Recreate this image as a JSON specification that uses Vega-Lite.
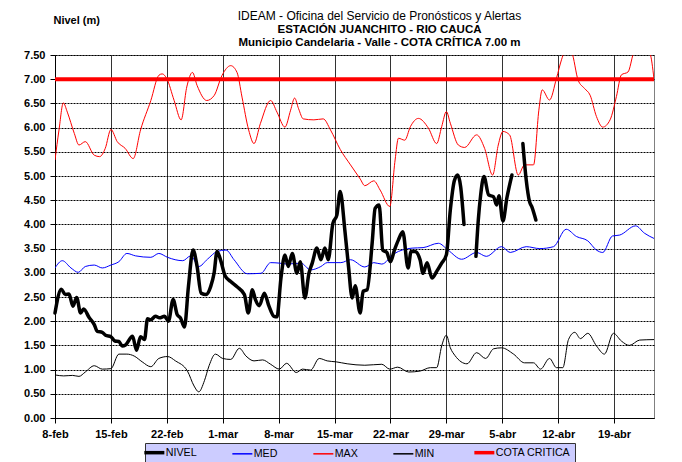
{
  "$schema": "https://vega.github.io/schema/vega-lite/v6.json",
  "width": 599,
  "height": 363,
  "padding": {"left": 23, "top": 9, "right": 20, "bottom": 5},
  "title": {
    "text": "IDEAM - Oficina del Servicio de Pronósticos y Alertas",
    "subtitle": ["ESTACIÓN JUANCHITO - RIO CAUCA", "Municipio Candelaria - Valle - COTA CRÍTICA 7.00 m"],
    "anchor": "middle",
    "frame": "group",
    "offset": -35,
    "dx": 25
  },
  "datasets": {
    "niveles": [
      {"serie":"NIVEL","fecha":"2021-02-08T00:00","nivel":2.17},
      {"serie":"NIVEL","fecha":"2021-02-08T19:00","nivel":2.66},
      {"serie":"NIVEL","fecha":"2021-02-09T07:00","nivel":2.55},
      {"serie":"NIVEL","fecha":"2021-02-09T18:00","nivel":2.56},
      {"serie":"NIVEL","fecha":"2021-02-10T06:00","nivel":2.31},
      {"serie":"NIVEL","fecha":"2021-02-10T17:00","nivel":2.49},
      {"serie":"NIVEL","fecha":"2021-02-11T05:00","nivel":2.17},
      {"serie":"NIVEL","fecha":"2021-02-11T14:00","nivel":2.25},
      {"serie":"NIVEL","fecha":"2021-02-12T07:00","nivel":2.07},
      {"serie":"NIVEL","fecha":"2021-02-12T22:00","nivel":1.93},
      {"serie":"NIVEL","fecha":"2021-02-13T07:00","nivel":1.79},
      {"serie":"NIVEL","fecha":"2021-02-13T22:00","nivel":1.77},
      {"serie":"NIVEL","fecha":"2021-02-14T08:00","nivel":1.71},
      {"serie":"NIVEL","fecha":"2021-02-15T00:00","nivel":1.68},
      {"serie":"NIVEL","fecha":"2021-02-15T12:00","nivel":1.59},
      {"serie":"NIVEL","fecha":"2021-02-16T00:00","nivel":1.58},
      {"serie":"NIVEL","fecha":"2021-02-16T10:00","nivel":1.49},
      {"serie":"NIVEL","fecha":"2021-02-16T20:00","nivel":1.51},
      {"serie":"NIVEL","fecha":"2021-02-17T17:00","nivel":1.69},
      {"serie":"NIVEL","fecha":"2021-02-18T05:00","nivel":1.40},
      {"serie":"NIVEL","fecha":"2021-02-18T17:00","nivel":1.68},
      {"serie":"NIVEL","fecha":"2021-02-19T05:00","nivel":1.62},
      {"serie":"NIVEL","fecha":"2021-02-19T14:00","nivel":2.05},
      {"serie":"NIVEL","fecha":"2021-02-20T00:00","nivel":2.03},
      {"serie":"NIVEL","fecha":"2021-02-20T14:00","nivel":2.10},
      {"serie":"NIVEL","fecha":"2021-02-21T02:00","nivel":2.07},
      {"serie":"NIVEL","fecha":"2021-02-21T17:00","nivel":2.10},
      {"serie":"NIVEL","fecha":"2021-02-22T05:00","nivel":2.00},
      {"serie":"NIVEL","fecha":"2021-02-22T19:00","nivel":2.45},
      {"serie":"NIVEL","fecha":"2021-02-23T07:00","nivel":2.14},
      {"serie":"NIVEL","fecha":"2021-02-23T17:00","nivel":2.07},
      {"serie":"NIVEL","fecha":"2021-02-24T05:00","nivel":1.88},
      {"serie":"NIVEL","fecha":"2021-02-24T17:00","nivel":2.72},
      {"serie":"NIVEL","fecha":"2021-02-25T07:00","nivel":3.47},
      {"serie":"NIVEL","fecha":"2021-02-25T19:00","nivel":3.13},
      {"serie":"NIVEL","fecha":"2021-02-26T07:00","nivel":2.58},
      {"serie":"NIVEL","fecha":"2021-02-26T22:00","nivel":2.55},
      {"serie":"NIVEL","fecha":"2021-02-27T12:00","nivel":2.72},
      {"serie":"NIVEL","fecha":"2021-02-27T22:00","nivel":2.99},
      {"serie":"NIVEL","fecha":"2021-02-28T07:00","nivel":3.44},
      {"serie":"NIVEL","fecha":"2021-02-28T19:00","nivel":3.23},
      {"serie":"NIVEL","fecha":"2021-03-01T07:00","nivel":2.94},
      {"serie":"NIVEL","fecha":"2021-03-02T00:00","nivel":2.82},
      {"serie":"NIVEL","fecha":"2021-03-02T19:00","nivel":2.71},
      {"serie":"NIVEL","fecha":"2021-03-03T17:00","nivel":2.55},
      {"serie":"NIVEL","fecha":"2021-03-04T05:00","nivel":2.17},
      {"serie":"NIVEL","fecha":"2021-03-04T17:00","nivel":2.65},
      {"serie":"NIVEL","fecha":"2021-03-05T02:00","nivel":2.45},
      {"serie":"NIVEL","fecha":"2021-03-05T14:00","nivel":2.32},
      {"serie":"NIVEL","fecha":"2021-03-06T05:00","nivel":2.58},
      {"serie":"NIVEL","fecha":"2021-03-06T19:00","nivel":2.31},
      {"serie":"NIVEL","fecha":"2021-03-07T10:00","nivel":2.10},
      {"serie":"NIVEL","fecha":"2021-03-07T19:00","nivel":2.09},
      {"serie":"NIVEL","fecha":"2021-03-08T07:00","nivel":2.89},
      {"serie":"NIVEL","fecha":"2021-03-08T19:00","nivel":3.37},
      {"serie":"NIVEL","fecha":"2021-03-09T05:00","nivel":3.13},
      {"serie":"NIVEL","fecha":"2021-03-09T17:00","nivel":3.40},
      {"serie":"NIVEL","fecha":"2021-03-10T07:00","nivel":2.99},
      {"serie":"NIVEL","fecha":"2021-03-10T17:00","nivel":3.23},
      {"serie":"NIVEL","fecha":"2021-03-11T07:00","nivel":2.48},
      {"serie":"NIVEL","fecha":"2021-03-11T19:00","nivel":2.99},
      {"serie":"NIVEL","fecha":"2021-03-12T05:00","nivel":3.20},
      {"serie":"NIVEL","fecha":"2021-03-12T19:00","nivel":3.51},
      {"serie":"NIVEL","fecha":"2021-03-13T07:00","nivel":3.27},
      {"serie":"NIVEL","fecha":"2021-03-13T19:00","nivel":3.51},
      {"serie":"NIVEL","fecha":"2021-03-14T05:00","nivel":3.27},
      {"serie":"NIVEL","fecha":"2021-03-14T19:00","nivel":4.02},
      {"serie":"NIVEL","fecha":"2021-03-15T07:00","nivel":4.19},
      {"serie":"NIVEL","fecha":"2021-03-15T17:00","nivel":4.68},
      {"serie":"NIVEL","fecha":"2021-03-16T07:00","nivel":3.88},
      {"serie":"NIVEL","fecha":"2021-03-16T18:00","nivel":3.13},
      {"serie":"NIVEL","fecha":"2021-03-17T05:00","nivel":2.48},
      {"serie":"NIVEL","fecha":"2021-03-17T14:00","nivel":2.73},
      {"serie":"NIVEL","fecha":"2021-03-18T05:00","nivel":2.17},
      {"serie":"NIVEL","fecha":"2021-03-18T14:00","nivel":2.62},
      {"serie":"NIVEL","fecha":"2021-03-19T02:00","nivel":2.65},
      {"serie":"NIVEL","fecha":"2021-03-19T17:00","nivel":3.61},
      {"serie":"NIVEL","fecha":"2021-03-20T02:00","nivel":4.33},
      {"serie":"NIVEL","fecha":"2021-03-20T14:00","nivel":4.40},
      {"serie":"NIVEL","fecha":"2021-03-21T01:00","nivel":3.47},
      {"serie":"NIVEL","fecha":"2021-03-21T13:00","nivel":3.42},
      {"serie":"NIVEL","fecha":"2021-03-22T00:00","nivel":3.23},
      {"serie":"NIVEL","fecha":"2021-03-22T12:00","nivel":3.47},
      {"serie":"NIVEL","fecha":"2021-03-23T00:00","nivel":3.68},
      {"serie":"NIVEL","fecha":"2021-03-23T13:00","nivel":3.85},
      {"serie":"NIVEL","fecha":"2021-03-24T05:00","nivel":3.10},
      {"serie":"NIVEL","fecha":"2021-03-24T14:00","nivel":3.44},
      {"serie":"NIVEL","fecha":"2021-03-25T02:00","nivel":3.44},
      {"serie":"NIVEL","fecha":"2021-03-25T17:00","nivel":3.27},
      {"serie":"NIVEL","fecha":"2021-03-26T02:00","nivel":2.99},
      {"serie":"NIVEL","fecha":"2021-03-26T14:00","nivel":3.21},
      {"serie":"NIVEL","fecha":"2021-03-27T05:00","nivel":2.89},
      {"serie":"NIVEL","fecha":"2021-03-27T19:00","nivel":3.03},
      {"serie":"NIVEL","fecha":"2021-03-28T10:00","nivel":3.20},
      {"serie":"NIVEL","fecha":"2021-03-29T00:00","nivel":3.37},
      {"serie":"NIVEL","fecha":"2021-03-29T12:00","nivel":4.30},
      {"serie":"NIVEL","fecha":"2021-03-30T00:00","nivel":4.90},
      {"serie":"NIVEL","fecha":"2021-03-30T10:00","nivel":5.02},
      {"serie":"NIVEL","fecha":"2021-03-30T19:00","nivel":4.78},
      {"serie":"NIVEL","fecha":"2021-03-31T05:00","nivel":4.00},
      {"serie":"NIVEL","fecha":"2021-03-31T22:00","nivel":null},
      {"serie":"NIVEL","fecha":"2021-04-01T17:00","nivel":3.34},
      {"serie":"NIVEL","fecha":"2021-04-02T00:00","nivel":4.09},
      {"serie":"NIVEL","fecha":"2021-04-02T07:00","nivel":4.60},
      {"serie":"NIVEL","fecha":"2021-04-02T17:00","nivel":4.99},
      {"serie":"NIVEL","fecha":"2021-04-03T07:00","nivel":4.61},
      {"serie":"NIVEL","fecha":"2021-04-03T22:00","nivel":4.57},
      {"serie":"NIVEL","fecha":"2021-04-04T07:00","nivel":4.40},
      {"serie":"NIVEL","fecha":"2021-04-04T14:00","nivel":4.59},
      {"serie":"NIVEL","fecha":"2021-04-05T02:00","nivel":4.07},
      {"serie":"NIVEL","fecha":"2021-04-05T14:00","nivel":4.55},
      {"serie":"NIVEL","fecha":"2021-04-06T05:00","nivel":5.02},
      {"serie":"NIVEL","fecha":"2021-04-06T22:00","nivel":null},
      {"serie":"NIVEL","fecha":"2021-04-07T14:00","nivel":5.67},
      {"serie":"NIVEL","fecha":"2021-04-08T00:00","nivel":4.92},
      {"serie":"NIVEL","fecha":"2021-04-08T10:00","nivel":4.47},
      {"serie":"NIVEL","fecha":"2021-04-08T17:00","nivel":4.36},
      {"serie":"NIVEL","fecha":"2021-04-09T05:00","nivel":4.09},

      {"serie":"MAX","fecha":"2021-02-08T00:00","nivel":5.33},
      {"serie":"MAX","fecha":"2021-02-08T12:00","nivel":5.95},
      {"serie":"MAX","fecha":"2021-02-09T01:00","nivel":6.51},
      {"serie":"MAX","fecha":"2021-02-09T13:00","nivel":6.32},
      {"serie":"MAX","fecha":"2021-02-10T10:00","nivel":5.88},
      {"serie":"MAX","fecha":"2021-02-11T00:00","nivel":5.64},
      {"serie":"MAX","fecha":"2021-02-11T19:00","nivel":5.71},
      {"serie":"MAX","fecha":"2021-02-12T22:00","nivel":5.43},
      {"serie":"MAX","fecha":"2021-02-13T14:00","nivel":5.40},
      {"serie":"MAX","fecha":"2021-02-14T07:00","nivel":5.57},
      {"serie":"MAX","fecha":"2021-02-15T00:00","nivel":5.96},
      {"serie":"MAX","fecha":"2021-02-15T19:00","nivel":5.71},
      {"serie":"MAX","fecha":"2021-02-16T19:00","nivel":5.57},
      {"serie":"MAX","fecha":"2021-02-17T19:00","nivel":5.36},
      {"serie":"MAX","fecha":"2021-02-18T17:00","nivel":5.95},
      {"serie":"MAX","fecha":"2021-02-20T00:00","nivel":6.56},
      {"serie":"MAX","fecha":"2021-02-21T00:00","nivel":7.08},
      {"serie":"MAX","fecha":"2021-02-21T10:00","nivel":7.11},
      {"serie":"MAX","fecha":"2021-02-22T00:00","nivel":7.01},
      {"serie":"MAX","fecha":"2021-02-22T22:00","nivel":6.56},
      {"serie":"MAX","fecha":"2021-02-23T19:00","nivel":6.16},
      {"serie":"MAX","fecha":"2021-02-24T12:00","nivel":6.84},
      {"serie":"MAX","fecha":"2021-02-25T05:00","nivel":7.14},
      {"serie":"MAX","fecha":"2021-02-25T19:00","nivel":6.87},
      {"serie":"MAX","fecha":"2021-02-27T00:00","nivel":6.56},
      {"serie":"MAX","fecha":"2021-02-27T22:00","nivel":6.66},
      {"serie":"MAX","fecha":"2021-02-28T22:00","nivel":7.08},
      {"serie":"MAX","fecha":"2021-03-02T00:00","nivel":7.28},
      {"serie":"MAX","fecha":"2021-03-02T19:00","nivel":7.14},
      {"serie":"MAX","fecha":"2021-03-03T10:00","nivel":6.63},
      {"serie":"MAX","fecha":"2021-03-04T06:00","nivel":5.95},
      {"serie":"MAX","fecha":"2021-03-04T22:00","nivel":5.67},
      {"serie":"MAX","fecha":"2021-03-05T17:00","nivel":6.08},
      {"serie":"MAX","fecha":"2021-03-07T00:00","nivel":6.56},
      {"serie":"MAX","fecha":"2021-03-07T19:00","nivel":6.32},
      {"serie":"MAX","fecha":"2021-03-08T19:00","nivel":6.01},
      {"serie":"MAX","fecha":"2021-03-09T12:00","nivel":6.36},
      {"serie":"MAX","fecha":"2021-03-10T00:00","nivel":6.61},
      {"serie":"MAX","fecha":"2021-03-10T12:00","nivel":6.39},
      {"serie":"MAX","fecha":"2021-03-11T02:00","nivel":6.18},
      {"serie":"MAX","fecha":"2021-03-12T10:00","nivel":6.16},
      {"serie":"MAX","fecha":"2021-03-13T14:00","nivel":6.18},
      {"serie":"MAX","fecha":"2021-03-14T12:00","nivel":5.95},
      {"serie":"MAX","fecha":"2021-03-15T17:00","nivel":5.55},
      {"serie":"MAX","fecha":"2021-03-17T00:00","nivel":5.23},
      {"serie":"MAX","fecha":"2021-03-18T05:00","nivel":4.94},
      {"serie":"MAX","fecha":"2021-03-18T19:00","nivel":4.80},
      {"serie":"MAX","fecha":"2021-03-19T22:00","nivel":4.90},
      {"serie":"MAX","fecha":"2021-03-20T17:00","nivel":4.71},
      {"serie":"MAX","fecha":"2021-03-21T22:00","nivel":4.37},
      {"serie":"MAX","fecha":"2021-03-22T14:00","nivel":5.33},
      {"serie":"MAX","fecha":"2021-03-23T00:00","nivel":5.78},
      {"serie":"MAX","fecha":"2021-03-23T19:00","nivel":5.74},
      {"serie":"MAX","fecha":"2021-03-24T12:00","nivel":6.02},
      {"serie":"MAX","fecha":"2021-03-25T12:00","nivel":6.19},
      {"serie":"MAX","fecha":"2021-03-26T18:00","nivel":5.99},
      {"serie":"MAX","fecha":"2021-03-27T19:00","nivel":5.67},
      {"serie":"MAX","fecha":"2021-03-28T10:00","nivel":6.02},
      {"serie":"MAX","fecha":"2021-03-29T00:00","nivel":6.33},
      {"serie":"MAX","fecha":"2021-03-29T12:00","nivel":6.09},
      {"serie":"MAX","fecha":"2021-03-30T12:00","nivel":5.64},
      {"serie":"MAX","fecha":"2021-03-31T07:00","nivel":5.59},
      {"serie":"MAX","fecha":"2021-04-01T19:00","nivel":5.85},
      {"serie":"MAX","fecha":"2021-04-02T19:00","nivel":5.57},
      {"serie":"MAX","fecha":"2021-04-03T19:00","nivel":5.02},
      {"serie":"MAX","fecha":"2021-04-04T12:00","nivel":5.64},
      {"serie":"MAX","fecha":"2021-04-05T02:00","nivel":5.92},
      {"serie":"MAX","fecha":"2021-04-05T22:00","nivel":5.85},
      {"serie":"MAX","fecha":"2021-04-07T00:00","nivel":5.02},
      {"serie":"MAX","fecha":"2021-04-07T19:00","nivel":5.23},
      {"serie":"MAX","fecha":"2021-04-08T22:00","nivel":5.23},
      {"serie":"MAX","fecha":"2021-04-09T14:00","nivel":6.36},
      {"serie":"MAX","fecha":"2021-04-10T00:00","nivel":6.78},
      {"serie":"MAX","fecha":"2021-04-10T22:00","nivel":6.57},
      {"serie":"MAX","fecha":"2021-04-11T19:00","nivel":7.02},
      {"serie":"MAX","fecha":"2021-04-12T10:00","nivel":7.40},
      {"serie":"MAX","fecha":"2021-04-13T02:00","nivel":7.65},
      {"serie":"MAX","fecha":"2021-04-13T17:00","nivel":7.55},
      {"serie":"MAX","fecha":"2021-04-14T12:00","nivel":6.98},
      {"serie":"MAX","fecha":"2021-04-15T07:00","nivel":6.81},
      {"serie":"MAX","fecha":"2021-04-16T00:00","nivel":6.67},
      {"serie":"MAX","fecha":"2021-04-16T19:00","nivel":6.23},
      {"serie":"MAX","fecha":"2021-04-17T14:00","nivel":6.01},
      {"serie":"MAX","fecha":"2021-04-18T12:00","nivel":6.16},
      {"serie":"MAX","fecha":"2021-04-19T07:00","nivel":6.64},
      {"serie":"MAX","fecha":"2021-04-19T22:00","nivel":7.09},
      {"serie":"MAX","fecha":"2021-04-20T18:00","nivel":7.15},
      {"serie":"MAX","fecha":"2021-04-21T10:00","nivel":7.53},
      {"serie":"MAX","fecha":"2021-04-22T05:00","nivel":7.75},
      {"serie":"MAX","fecha":"2021-04-23T12:00","nivel":7.53},
      {"serie":"MAX","fecha":"2021-04-24T00:00","nivel":7.00},

      {"serie":"MED","fecha":"2021-02-08T00:00","nivel":3.10},
      {"serie":"MED","fecha":"2021-02-08T22:00","nivel":3.25},
      {"serie":"MED","fecha":"2021-02-10T00:00","nivel":3.10},
      {"serie":"MED","fecha":"2021-02-10T22:00","nivel":3.01},
      {"serie":"MED","fecha":"2021-02-11T19:00","nivel":3.13},
      {"serie":"MED","fecha":"2021-02-12T22:00","nivel":3.16},
      {"serie":"MED","fecha":"2021-02-13T22:00","nivel":3.10},
      {"serie":"MED","fecha":"2021-02-15T00:00","nivel":3.16},
      {"serie":"MED","fecha":"2021-02-16T00:00","nivel":3.23},
      {"serie":"MED","fecha":"2021-02-17T00:00","nivel":3.40},
      {"serie":"MED","fecha":"2021-02-18T02:00","nivel":3.35},
      {"serie":"MED","fecha":"2021-02-20T00:00","nivel":3.32},
      {"serie":"MED","fecha":"2021-02-21T00:00","nivel":3.40},
      {"serie":"MED","fecha":"2021-02-22T02:00","nivel":3.32},
      {"serie":"MED","fecha":"2021-02-24T00:00","nivel":3.25},
      {"serie":"MED","fecha":"2021-02-25T00:00","nivel":3.35},
      {"serie":"MED","fecha":"2021-02-26T00:00","nivel":3.13},
      {"serie":"MED","fecha":"2021-02-27T02:00","nivel":3.28},
      {"serie":"MED","fecha":"2021-02-28T07:00","nivel":3.44},
      {"serie":"MED","fecha":"2021-03-01T10:00","nivel":3.47},
      {"serie":"MED","fecha":"2021-03-02T10:00","nivel":3.27},
      {"serie":"MED","fecha":"2021-03-04T02:00","nivel":2.98},
      {"serie":"MED","fecha":"2021-03-05T19:00","nivel":2.99},
      {"serie":"MED","fecha":"2021-03-07T00:00","nivel":3.21},
      {"serie":"MED","fecha":"2021-03-08T02:00","nivel":3.20},
      {"serie":"MED","fecha":"2021-03-09T02:00","nivel":3.18},
      {"serie":"MED","fecha":"2021-03-10T19:00","nivel":3.20},
      {"serie":"MED","fecha":"2021-03-12T00:00","nivel":3.06},
      {"serie":"MED","fecha":"2021-03-13T07:00","nivel":3.13},
      {"serie":"MED","fecha":"2021-03-14T02:00","nivel":3.21},
      {"serie":"MED","fecha":"2021-03-15T19:00","nivel":3.21},
      {"serie":"MED","fecha":"2021-03-17T00:00","nivel":3.27},
      {"serie":"MED","fecha":"2021-03-18T19:00","nivel":3.12},
      {"serie":"MED","fecha":"2021-03-19T22:00","nivel":3.21},
      {"serie":"MED","fecha":"2021-03-20T22:00","nivel":3.18},
      {"serie":"MED","fecha":"2021-03-22T10:00","nivel":3.39},
      {"serie":"MED","fecha":"2021-03-24T17:00","nivel":3.51},
      {"serie":"MED","fecha":"2021-03-26T02:00","nivel":3.52},
      {"serie":"MED","fecha":"2021-03-28T00:00","nivel":3.61},
      {"serie":"MED","fecha":"2021-03-29T05:00","nivel":3.47},
      {"serie":"MED","fecha":"2021-03-30T22:00","nivel":3.28},
      {"serie":"MED","fecha":"2021-04-01T19:00","nivel":3.42},
      {"serie":"MED","fecha":"2021-04-03T00:00","nivel":3.34},
      {"serie":"MED","fecha":"2021-04-04T22:00","nivel":3.54},
      {"serie":"MED","fecha":"2021-04-06T00:00","nivel":3.42},
      {"serie":"MED","fecha":"2021-04-08T00:00","nivel":3.54},
      {"serie":"MED","fecha":"2021-04-09T17:00","nivel":3.50},
      {"serie":"MED","fecha":"2021-04-11T10:00","nivel":3.54},
      {"serie":"MED","fecha":"2021-04-13T00:00","nivel":3.90},
      {"serie":"MED","fecha":"2021-04-14T07:00","nivel":3.75},
      {"serie":"MED","fecha":"2021-04-15T17:00","nivel":3.66},
      {"serie":"MED","fecha":"2021-04-16T19:00","nivel":3.47},
      {"serie":"MED","fecha":"2021-04-17T14:00","nivel":3.42},
      {"serie":"MED","fecha":"2021-04-18T19:00","nivel":3.76},
      {"serie":"MED","fecha":"2021-04-19T17:00","nivel":3.78},
      {"serie":"MED","fecha":"2021-04-21T17:00","nivel":3.97},
      {"serie":"MED","fecha":"2021-04-22T19:00","nivel":3.82},
      {"serie":"MED","fecha":"2021-04-24T00:00","nivel":3.71},

      {"serie":"MIN","fecha":"2021-02-08T00:00","nivel":0.89},
      {"serie":"MIN","fecha":"2021-02-09T02:00","nivel":0.87},
      {"serie":"MIN","fecha":"2021-02-10T05:00","nivel":0.88},
      {"serie":"MIN","fecha":"2021-02-11T00:00","nivel":0.86},
      {"serie":"MIN","fecha":"2021-02-11T19:00","nivel":0.95},
      {"serie":"MIN","fecha":"2021-02-12T22:00","nivel":1.08},
      {"serie":"MIN","fecha":"2021-02-13T22:00","nivel":1.01},
      {"serie":"MIN","fecha":"2021-02-15T00:00","nivel":1.02},
      {"serie":"MIN","fecha":"2021-02-16T00:00","nivel":1.32},
      {"serie":"MIN","fecha":"2021-02-17T00:00","nivel":1.32},
      {"serie":"MIN","fecha":"2021-02-17T22:00","nivel":1.28},
      {"serie":"MIN","fecha":"2021-02-18T22:00","nivel":1.16},
      {"serie":"MIN","fecha":"2021-02-20T00:00","nivel":1.06},
      {"serie":"MIN","fecha":"2021-02-21T00:00","nivel":1.23},
      {"serie":"MIN","fecha":"2021-02-22T02:00","nivel":1.27},
      {"serie":"MIN","fecha":"2021-02-23T02:00","nivel":1.18},
      {"serie":"MIN","fecha":"2021-02-24T14:00","nivel":0.97},
      {"serie":"MIN","fecha":"2021-02-25T10:00","nivel":0.66},
      {"serie":"MIN","fecha":"2021-02-26T00:00","nivel":0.54},
      {"serie":"MIN","fecha":"2021-02-26T17:00","nivel":0.77},
      {"serie":"MIN","fecha":"2021-02-27T07:00","nivel":1.08},
      {"serie":"MIN","fecha":"2021-02-28T02:00","nivel":1.32},
      {"serie":"MIN","fecha":"2021-03-01T00:00","nivel":1.23},
      {"serie":"MIN","fecha":"2021-03-02T00:00","nivel":1.21},
      {"serie":"MIN","fecha":"2021-03-03T02:00","nivel":1.44},
      {"serie":"MIN","fecha":"2021-03-03T22:00","nivel":1.28},
      {"serie":"MIN","fecha":"2021-03-04T22:00","nivel":1.18},
      {"serie":"MIN","fecha":"2021-03-06T00:00","nivel":1.20},
      {"serie":"MIN","fecha":"2021-03-07T00:00","nivel":1.11},
      {"serie":"MIN","fecha":"2021-03-08T02:00","nivel":1.01},
      {"serie":"MIN","fecha":"2021-03-09T00:00","nivel":1.13},
      {"serie":"MIN","fecha":"2021-03-10T05:00","nivel":0.94},
      {"serie":"MIN","fecha":"2021-03-11T00:00","nivel":1.01},
      {"serie":"MIN","fecha":"2021-03-12T00:00","nivel":0.99},
      {"serie":"MIN","fecha":"2021-03-13T02:00","nivel":1.23},
      {"serie":"MIN","fecha":"2021-03-14T02:00","nivel":1.18},
      {"serie":"MIN","fecha":"2021-03-15T05:00","nivel":1.16},
      {"serie":"MIN","fecha":"2021-03-16T14:00","nivel":1.12},
      {"serie":"MIN","fecha":"2021-03-18T19:00","nivel":1.09},
      {"serie":"MIN","fecha":"2021-03-20T22:00","nivel":1.11},
      {"serie":"MIN","fecha":"2021-03-21T22:00","nivel":1.01},
      {"serie":"MIN","fecha":"2021-03-22T22:00","nivel":1.05},
      {"serie":"MIN","fecha":"2021-03-24T07:00","nivel":0.95},
      {"serie":"MIN","fecha":"2021-03-25T17:00","nivel":0.97},
      {"serie":"MIN","fecha":"2021-03-27T00:00","nivel":1.04},
      {"serie":"MIN","fecha":"2021-03-27T19:00","nivel":1.04},
      {"serie":"MIN","fecha":"2021-03-28T10:00","nivel":1.49},
      {"serie":"MIN","fecha":"2021-03-29T00:00","nivel":1.71},
      {"serie":"MIN","fecha":"2021-03-29T12:00","nivel":1.45},
      {"serie":"MIN","fecha":"2021-03-30T02:00","nivel":1.29},
      {"serie":"MIN","fecha":"2021-03-31T14:00","nivel":1.12},
      {"serie":"MIN","fecha":"2021-04-01T19:00","nivel":1.35},
      {"serie":"MIN","fecha":"2021-04-02T22:00","nivel":1.23},
      {"serie":"MIN","fecha":"2021-04-03T22:00","nivel":1.43},
      {"serie":"MIN","fecha":"2021-04-04T22:00","nivel":1.45},
      {"serie":"MIN","fecha":"2021-04-06T10:00","nivel":1.32},
      {"serie":"MIN","fecha":"2021-04-07T19:00","nivel":1.14},
      {"serie":"MIN","fecha":"2021-04-08T22:00","nivel":1.14},
      {"serie":"MIN","fecha":"2021-04-09T19:00","nivel":1.01},
      {"serie":"MIN","fecha":"2021-04-10T22:00","nivel":1.23},
      {"serie":"MIN","fecha":"2021-04-11T19:00","nivel":1.04},
      {"serie":"MIN","fecha":"2021-04-12T14:00","nivel":1.04},
      {"serie":"MIN","fecha":"2021-04-13T07:00","nivel":1.62},
      {"serie":"MIN","fecha":"2021-04-14T02:00","nivel":1.77},
      {"serie":"MIN","fecha":"2021-04-14T19:00","nivel":1.64},
      {"serie":"MIN","fecha":"2021-04-15T17:00","nivel":1.75},
      {"serie":"MIN","fecha":"2021-04-16T19:00","nivel":1.49},
      {"serie":"MIN","fecha":"2021-04-17T19:00","nivel":1.32},
      {"serie":"MIN","fecha":"2021-04-18T22:00","nivel":1.75},
      {"serie":"MIN","fecha":"2021-04-19T22:00","nivel":1.59},
      {"serie":"MIN","fecha":"2021-04-20T22:00","nivel":1.50},
      {"serie":"MIN","fecha":"2021-04-22T05:00","nivel":1.61},
      {"serie":"MIN","fecha":"2021-04-24T00:00","nivel":1.62}
    ],
    "cota": [
      {"serie":"COTA CRITICA","fecha":"2021-02-08T00:00","nivel":7.0},
      {"serie":"COTA CRITICA","fecha":"2021-04-24T00:00","nivel":7.0}
    ]
  },
  "data": {"name": "niveles"},
  "encoding": {
    "x": {
      "field": "fecha", "type": "temporal", "title": null,
      "scale": {"domain": [{"year":2021,"month":2,"date":8},{"year":2021,"month":4,"date":24}]},
      "axis": {
        "values": [
          {"year":2021,"month":2,"date":8},{"year":2021,"month":2,"date":15},{"year":2021,"month":2,"date":22},
          {"year":2021,"month":3,"date":1},{"year":2021,"month":3,"date":8},{"year":2021,"month":3,"date":15},
          {"year":2021,"month":3,"date":22},{"year":2021,"month":3,"date":29},{"year":2021,"month":4,"date":5},
          {"year":2021,"month":4,"date":12},{"year":2021,"month":4,"date":19}
        ],
        "labelExpr": "date(datum.value) + '-' + ['ene','feb','mar','abr','may'][month(datum.value)]"
      }
    },
    "y": {
      "field": "nivel", "type": "quantitative",
      "scale": {"domain": [0, 7.5], "nice": false},
      "axis": {
        "values": [0,0.5,1,1.5,2,2.5,3,3.5,4,4.5,5,5.5,6,6.5,7,7.5],
        "format": ".2f",
        "title": "Nivel (m)",
        "titleAngle": 0, "titleAlign": "left", "titleBaseline": "middle", "titleX": -2, "titleY": -35
      }
    },
    "color": {
      "field": "serie", "type": "nominal", "title": null,
      "scale": {"domain": ["NIVEL","MED","MAX","MIN","COTA CRITICA"], "range": ["#000000","#0000FF","#FF0000","#000000","#FF0000"]},
      "legend": {
        "symbolSize": 400,
        "labelOffset": 6,
        "encode": {"symbols": {"update": {"strokeWidth": {"signal": "indexof(['NIVEL','COTA CRITICA'], datum.value) >= 0 ? 3.5 : 1.5"}}}}
      }
    }
  },
  "layer": [
    {"transform": [{"filter": "datum.serie === 'MED'"}], "mark": {"type": "line", "interpolate": "monotone", "clip": true, "strokeWidth": 1}},
    {"transform": [{"filter": "datum.serie === 'MIN'"}], "mark": {"type": "line", "interpolate": "monotone", "clip": true, "strokeWidth": 1}},
    {"transform": [{"filter": "datum.serie === 'MAX'"}], "mark": {"type": "line", "interpolate": "monotone", "clip": true, "strokeWidth": 1}},
    {"transform": [{"filter": "datum.serie === 'NIVEL'"}], "mark": {"type": "line", "interpolate": "monotone", "invalid": "break-paths-filter-domains", "strokeWidth": 3.5, "strokeJoin": "round", "strokeCap": "round"}},
    {"data": {"name": "cota"}, "mark": {"type": "line", "strokeWidth": 4}}
  ],
  "config": {
    "font": "Liberation Sans",
    "background": "#FFFFFF",
    "view": {"stroke": "#808080", "strokeWidth": 1},
    "axis": {
      "labelFont": "Liberation Sans", "labelFontWeight": "bold", "labelFontSize": 11, "labelColor": "#000000",
      "domainColor": "#000000", "tickColor": "#000000", "tickSize": 5, "gridOpacity": 1,
      "titleFont": "Liberation Sans", "titleFontWeight": "bold", "titleFontSize": 11, "titleColor": "#000000"
    },
    "axisX": {"gridColor": "#333333", "gridWidth": 1, "labelPadding": 5, "labelFlush": false},
    "axisY": {"gridColor": "#000000", "gridDash": [2, 1], "gridWidth": 1, "labelPadding": 5},
    "legend": {
      "orient": "none", "legendX": 90, "legendY": 388, "direction": "horizontal", "columns": 5,
      "symbolType": "stroke", "symbolSize": 400, "columnPadding": 32,
      "labelFont": "Liberation Sans", "labelFontSize": 10.7, "labelColor": "#000000",
      "fillColor": "#CCCCFF", "strokeColor": "#333333", "padding": 4
    },
    "title": {
      "font": "Liberation Sans", "fontSize": 12, "fontWeight": "normal", "color": "#000000",
      "subtitleFont": "Liberation Sans", "subtitleFontSize": 11.5, "subtitleFontWeight": "bold", "subtitleColor": "#000000",
      "subtitleLineHeight": 13, "subtitlePadding": 1
    }
  }
}
